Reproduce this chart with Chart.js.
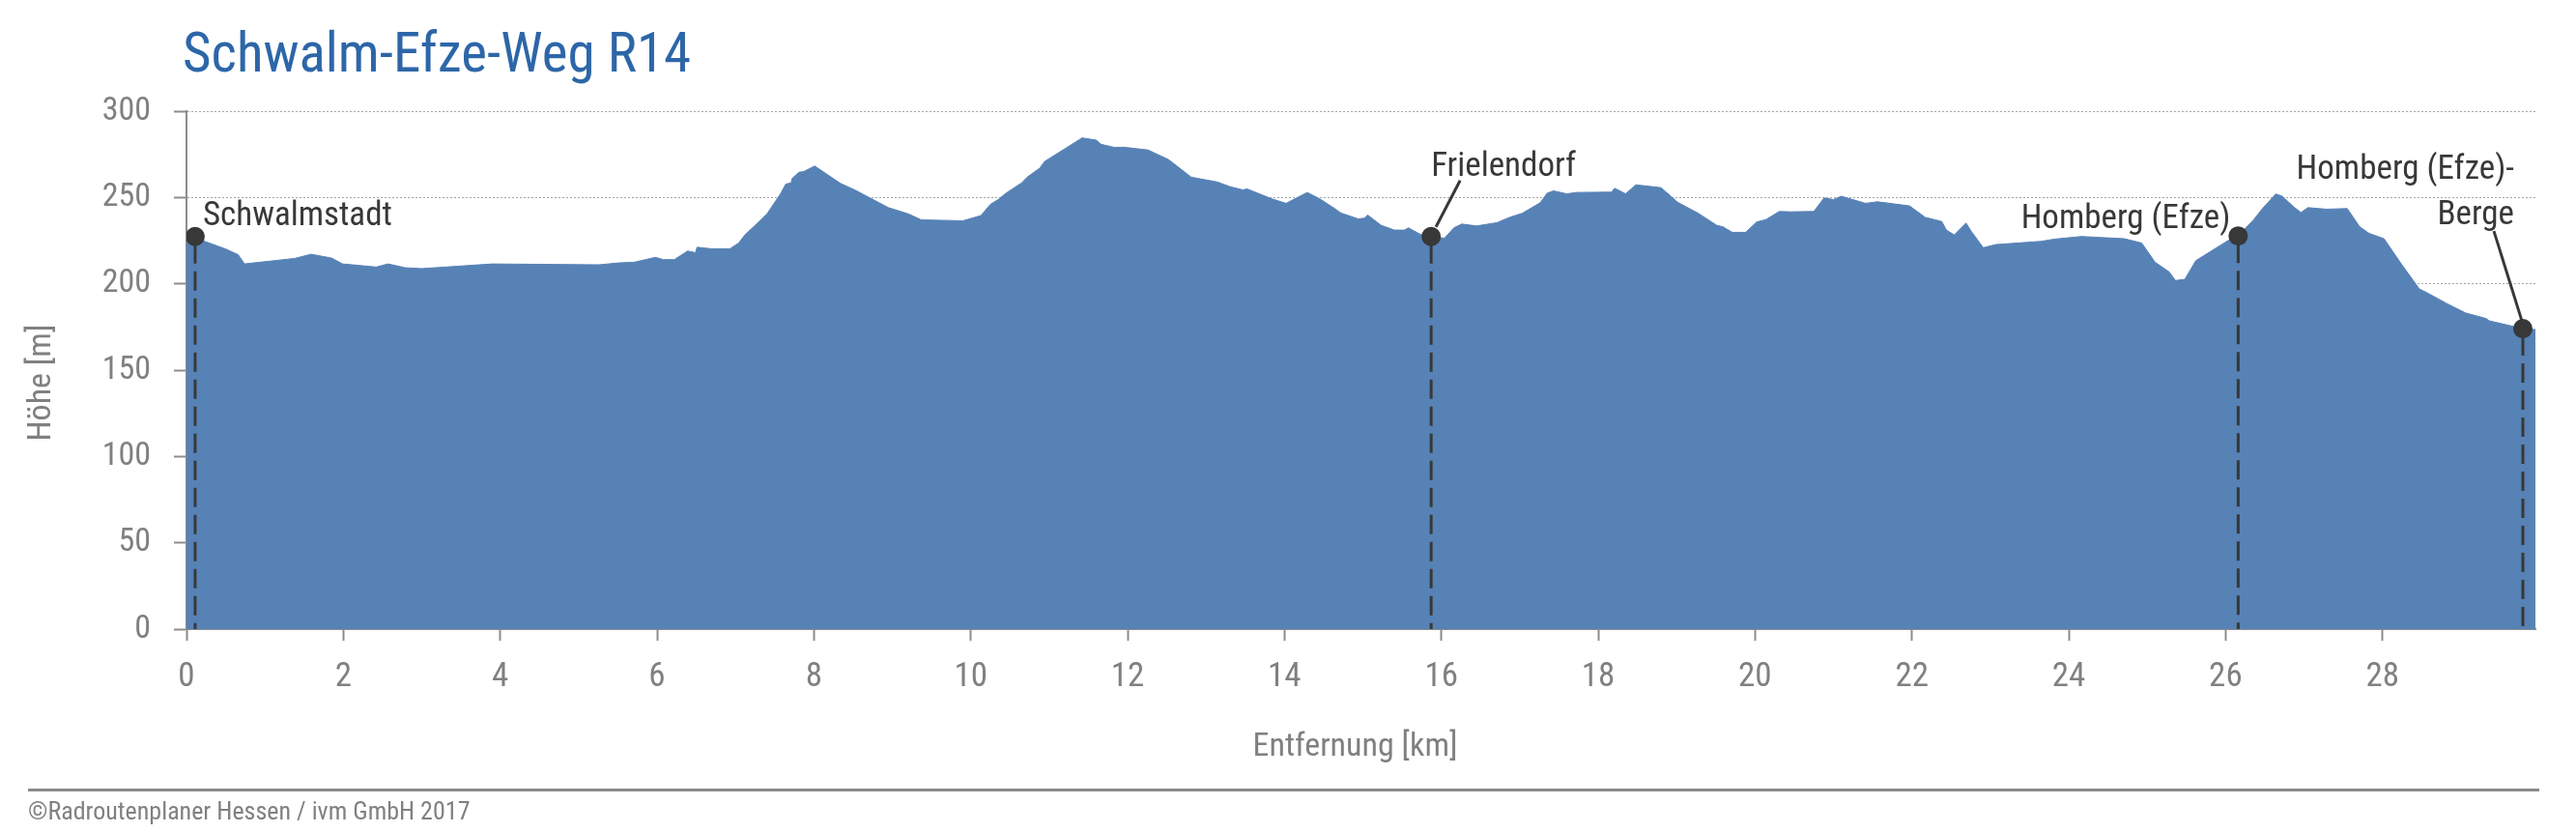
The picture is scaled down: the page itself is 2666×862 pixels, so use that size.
<!DOCTYPE html>
<html lang="de">
<head>
<meta charset="utf-8">
<title>Schwalm-Efze-Weg R14</title>
<script src="https://cdn.jsdelivr.net/npm/chart.js@4.4.1/dist/chart.umd.min.js"></script>
<style>
  html, body { margin: 0; padding: 0; background: #fff; }
  canvas { display: block; }
</style>
</head>
<body>
<canvas id="profil" width="2666" height="862"></canvas>
<script>
// Höhenprofil: Entfernung [km] und Höhe [m]
const distKm = [
  0.00, 0.10, 0.23, 0.51, 0.66, 0.74, 1.38, 1.59, 1.85, 1.99,
  2.42, 2.57, 2.79, 3.00, 3.90, 5.26, 5.51, 5.71, 5.98, 6.08,
  6.22, 6.39, 6.49, 6.51, 6.69, 6.93, 7.04, 7.12, 7.23, 7.40,
  7.58, 7.64, 7.71, 7.72, 7.81, 7.87, 8.01, 8.34, 8.52, 8.95,
  9.21, 9.37, 9.90, 10.13, 10.25, 10.35, 10.45, 10.65, 10.72, 10.88,
  10.94, 11.42, 11.60, 11.66, 11.83, 11.95, 12.26, 12.52, 12.81, 12.91,
  13.14, 13.31, 13.47, 13.52, 13.84, 14.02, 14.29, 14.45, 14.64, 14.72,
  14.94, 15.02, 15.06, 15.23, 15.40, 15.53, 15.58, 15.73, 15.87, 16.04,
  16.16, 16.26, 16.45, 16.71, 16.87, 17.03, 17.26, 17.35, 17.43, 17.60,
  17.72, 18.17, 18.21, 18.35, 18.48, 18.80, 18.93, 19.01, 19.27, 19.51,
  19.59, 19.71, 19.88, 20.02, 20.14, 20.31, 20.45, 20.75, 20.88, 21.00,
  21.10, 21.41, 21.56, 21.97, 22.17, 22.38, 22.44, 22.54, 22.69, 22.76,
  22.91, 23.07, 23.65, 23.82, 24.16, 24.71, 24.93, 25.10, 25.28, 25.36,
  25.48, 25.62, 26.03, 26.16, 26.23, 26.35, 26.48, 26.64, 26.72, 26.88,
  26.96, 27.05, 27.29, 27.55, 27.71, 27.83, 28.02, 28.24, 28.47, 28.57,
  28.81, 29.06, 29.32, 29.36, 29.79, 29.95
];
const elevM = [
  227.0, 227.4, 224.6, 220.0, 216.8, 211.5, 214.7, 217.1, 214.9, 211.5,
  209.7, 211.5, 209.3, 208.8, 211.5, 211.0, 212.1, 212.5, 215.3, 214.0,
  214.0, 219.0, 218.0, 221.2, 220.3, 220.3, 223.6, 228.3, 233.0, 240.4,
  252.5, 257.7, 258.5, 260.9, 264.6, 265.0, 268.2, 258.1, 254.4, 244.1,
  240.4, 237.0, 236.5, 239.5, 246.0, 248.8, 252.5, 258.5, 261.8, 267.0,
  270.8, 284.5, 283.2, 280.8, 279.0, 279.1, 277.5, 272.0, 261.8, 260.9,
  259.0, 256.2, 254.4, 255.0, 249.2, 246.6, 252.9, 249.2, 243.6, 241.0,
  237.6, 238.0, 239.9, 233.9, 231.1, 231.1, 232.4, 228.7, 227.4, 226.4,
  232.4, 234.6, 233.5, 235.4, 238.5, 240.8, 246.9, 252.5, 253.8, 252.1,
  252.9, 253.1, 255.3, 252.1, 257.3, 255.7, 250.6, 247.3, 241.0, 233.9,
  233.0, 229.8, 229.8, 235.8, 237.2, 241.9, 241.7, 241.9, 249.7, 248.8,
  250.7, 246.6, 247.5, 245.1, 238.5, 236.1, 231.1, 228.3, 235.2, 230.2,
  220.9, 222.7, 224.6, 225.9, 227.4, 226.1, 223.6, 212.5, 206.9, 201.9,
  202.6, 213.4, 225.0, 227.7, 231.1, 236.7, 244.1, 252.0, 250.7, 244.1,
  241.3, 244.1, 243.2, 243.6, 233.0, 229.2, 226.1, 211.5, 197.0, 194.8,
  188.8, 183.1, 179.9, 178.6, 174.0, 173.5
];

// Orte entlang der Route
const townLabels = [['Schwalmstadt'], ['Frielendorf'], ['Homberg (Efze)'], ['Homberg (Efze)-', 'Berge']];
const townKm = [0.11, 15.87, 26.16, 29.79];
const townElev = [227.4, 227.4, 227.7, 174.0];

// Achsen
const xTicks = [0, 2, 4, 6, 8, 10, 12, 14, 16, 18, 20, 22, 24, 26, 28];
const yTicks = [0, 50, 100, 150, 200, 250, 300];
const xMax = 29.95;

const titleText = 'Schwalm-Efze-Weg R14';
const xTitle = 'Entfernung [km]';
const yTitle = 'Höhe [m]';
const footerText = '©Radroutenplaner Hessen / ivm GmbH 2017';

// Schmale Schrift, falls vorhanden, sonst Roboto etwas gestaucht
const probe = document.createElement('canvas').getContext('2d');
probe.font = '40px "Roboto Condensed", monospace';
const wCond = probe.measureText(titleText).width;
probe.font = '40px monospace';
const wMono = probe.measureText(titleText).width;
const hasCond = Math.abs(wCond - wMono) > 1;
const FONT = hasCond ? '"Roboto Condensed", Roboto, sans-serif' : 'Roboto, sans-serif';
const SQ = hasCond ? 1 : 0.86;

const BLUE = '#5782b6';
const INK = '#383838';
const GREY = '#808080';
const AXIS = '#8c8c8c';

function text(ctx, str, x, y, size, color, align) {
  ctx.save();
  ctx.font = size + 'px ' + FONT;
  ctx.fillStyle = color;
  ctx.textAlign = align || 'left';
  ctx.textBaseline = 'alphabetic';
  ctx.translate(x, y);
  ctx.scale(SQ, 1);
  ctx.fillText(str, 0, 0);
  ctx.restore();
}

// Beschriftung der Orte relativ zum Punkt
const labelLayout = [
  { dx: 8, dy: -12, align: 'left' },
  { dx: 0, dy: -63, align: 'left', leader: [5, -10, 30, -58] },
  { dx: -8, dy: -8, align: 'right' },
  { dx: -9, dy: -155, align: 'right', gap: 47, leader: [-1, -8, -30, -101] }
];

const overlay = {
  id: 'overlay',
  afterDatasetDraw(chart, args) {
    if (args.index !== 0) return;
    const { ctx, scales: { x, y } } = chart;
    ctx.save();
    ctx.strokeStyle = INK;
    ctx.lineWidth = 3;
    ctx.setLineDash([20, 8]);
    ctx.lineDashOffset = -8;
    townKm.forEach((km, i) => {
      const px = x.getPixelForValue(km);
      ctx.beginPath();
      ctx.moveTo(px, y.getPixelForValue(townElev[i]));
      ctx.lineTo(px, y.getPixelForValue(0));
      ctx.stroke();
    });
    ctx.restore();
  },
  afterDraw(chart) {
    const { ctx, scales: { x, y }, chartArea } = chart;

    townKm.forEach((km, i) => {
      const px = x.getPixelForValue(km);
      const py = y.getPixelForValue(townElev[i]);
      const l = labelLayout[i];
      if (l.leader) {
        ctx.save();
        ctx.strokeStyle = INK;
        ctx.lineWidth = 3;
        ctx.beginPath();
        ctx.moveTo(px + l.leader[0], py + l.leader[1]);
        ctx.lineTo(px + l.leader[2], py + l.leader[3]);
        ctx.stroke();
        ctx.restore();
      }
      townLabels[i].forEach((line, k) => {
        text(ctx, line, px + l.dx, py + l.dy + k * (l.gap || 0), 35, INK, l.align);
      });
    });

    // Titel
    text(ctx, titleText, 189, 74, 57, '#2d66a8', 'left');

    // Achsentitel
    text(ctx, xTitle, (chartArea.left + chartArea.right) / 2 - 6, 782, 34, GREY, 'center');
    ctx.save();
    ctx.translate(52, 396);
    ctx.rotate(-Math.PI / 2);
    text(ctx, yTitle, 0, 0, 34, GREY, 'center');
    ctx.restore();

    // Fußzeile
    ctx.save();
    ctx.strokeStyle = AXIS;
    ctx.lineWidth = 3;
    ctx.beginPath();
    ctx.moveTo(29, 817.5);
    ctx.lineTo(2628, 817.5);
    ctx.stroke();
    ctx.restore();
    text(ctx, footerText, 29, 848, 26, GREY, 'left');
  }
};

new Chart(document.getElementById('profil'), {
  type: 'scatter',
  data: {
    datasets: [
      {
        label: 'Höhe',
        data: distKm.map((d, i) => ({ x: d, y: elevM[i] })),
        showLine: true,
        fill: 'origin',
        backgroundColor: BLUE,
        borderColor: BLUE,
        borderWidth: 1,
        pointRadius: 0,
        tension: 0,
        order: 2
      },
      {
        label: 'Orte',
        data: townKm.map((d, i) => ({ x: d, y: townElev[i] })),
        pointRadius: 10,
        pointBackgroundColor: INK,
        pointBorderWidth: 0,
        order: 1
      }
    ]
  },
  options: {
    responsive: false,
    animation: false,
    layout: { padding: { top: 115, right: 42, bottom: 0, left: 0 } },
    plugins: { legend: { display: false }, tooltip: { enabled: false } },
    scales: {
      x: {
        type: 'linear',
        min: 0,
        max: xMax,
        z: 1,
        afterFit(scale) { scale.height = 211; },
        afterBuildTicks(scale) { scale.ticks = xTicks.map(v => ({ value: v })); },
        grid: { drawOnChartArea: false, drawTicks: true, tickLength: 12, tickColor: AXIS, tickWidth: 2 },
        border: { display: true, color: AXIS, width: 2 },
        ticks: { padding: 17, color: GREY, font: { family: FONT, size: 35 } }
      },
      y: {
        min: 0,
        max: 300,
        z: 1,
        afterFit(scale) { scale.width = 193; },
        afterBuildTicks(scale) { scale.ticks = yTicks.map(v => ({ value: v })); },
        grid: { color: 'rgba(40,40,40,0.42)', lineWidth: 1, tickLength: 13, tickColor: AXIS, tickWidth: 2 },
        border: { display: true, color: AXIS, width: 2, dash: [2, 2] },
        ticks: { padding: 24, color: GREY, font: { family: FONT, size: 34 } }
      }
    }
  },
  plugins: [overlay]
});
</script>
</body>
</html>
